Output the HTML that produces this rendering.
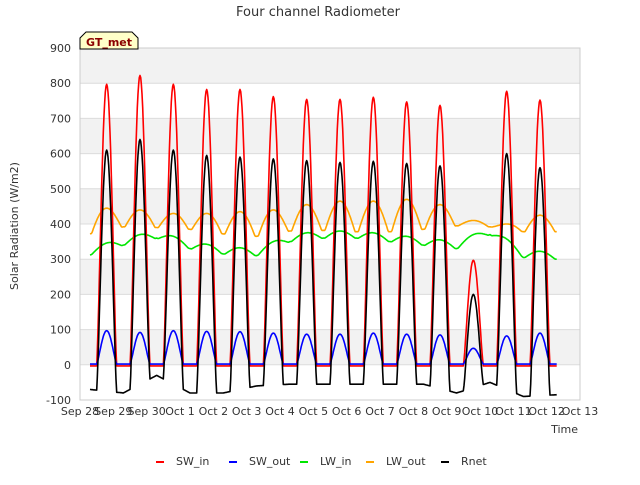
<!DOCTYPE html>
<html><head><meta charset="utf-8"><style>
body{margin:0;background:#fff;font-family:"Liberation Sans","DejaVu Sans",sans-serif}
svg text{font-family:"DejaVu Sans","Liberation Sans",sans-serif}
</style></head><body>
<svg id="c" width="640" height="480" xmlns="http://www.w3.org/2000/svg">
<text x="318" y="16" text-anchor="middle" font-size="13" fill="#333">Four channel Radiometer</text>
<text transform="translate(18,226) rotate(-90)" text-anchor="middle" font-size="11" fill="#333">Solar Radiation (W/m2)</text>
<text x="578" y="433" text-anchor="end" font-size="11" fill="#333">Time</text>
<g id="bands"></g><g id="grid"></g><g id="series"></g><g id="axes"></g>
<g>
<path d="M80,49 L80,38 L86,32 L132,32 L138,38 L138,49 Z" fill="#ffffc8" stroke="#000" stroke-width="1"/>
<text x="109" y="46" text-anchor="middle" font-size="11" font-weight="bold" fill="#8b0000">GT_met</text>
</g>
<g id="legend"></g>
</svg>
<script>
const xTicks=["Sep 28","Sep 29","Sep 30","Oct 1","Oct 2","Oct 3","Oct 4","Oct 5","Oct 6","Oct 7","Oct 8","Oct 9","Oct 10","Oct 11","Oct 12","Oct 13"];
const yTicks=[-100,0,100,200,300,400,500,600,700,800,900];
const swInPeak=[800,825,800,785,785,765,757,757,763,750,740,300,780,755];
const swOutPeak=[95,90,95,93,92,88,85,85,88,85,83,45,80,88];
const rnetPeak=[610,640,610,595,590,585,580,575,578,572,565,200,600,560];
const rnetNight=[-70,-80,-30,-80,-80,-60,-55,-55,-55,-55,-55,-80,-50,-90,-85];
const lwInLevel=[312,340,360,330,315,310,350,360,360,350,340,330,370,305,300];
const lwOutPeak=[445,440,430,430,435,440,455,465,465,470,455,410,400,425];
const lwOutNight=[372,392,390,385,372,365,380,382,378,378,385,395,392,378,378];
const X0=80,X1=580,Y0=400,Y1=48;
const xs=d=>X0+(X1-X0)*d/15;
const ys=v=>Y0-(Y0-Y1)*(v+100)/1000;
const NS="http://www.w3.org/2000/svg";
function mk(t,a,p){const e=document.createElementNS(NS,t);for(const k in a)e.setAttribute(k,a[k]);p.appendChild(e);return e;}
const bands=document.getElementById('bands'),grid=document.getElementById('grid'),axes=document.getElementById('axes'),ser=document.getElementById('series'),leg=document.getElementById('legend');
mk('rect',{x:X0,y:Y1,width:X1-X0,height:Y0-Y1,fill:'#fff'},bands);
for(let v=0;v<900;v+=200){const r=mk('rect',{x:X0,y:ys(v+100),width:X1-X0,height:ys(v)-ys(v+100),fill:'#f2f2f2'},bands);

}
yTicks.forEach(v=>{const l=mk('line',{x1:X0,x2:X1,y1:ys(v),y2:ys(v),stroke:'#dcdcdc','stroke-width':1},grid);


const t=mk('text',{x:X0-9,y:ys(v)+4,'text-anchor':'end','font-size':11,fill:'#333'},axes);t.textContent=v;

});
xTicks.forEach((s,i)=>{const t=mk('text',{x:xs(i),y:415,'text-anchor':'middle','font-size':11,fill:'#333'},axes);t.textContent=s;

});
mk('rect',{x:X0,y:Y1,width:X1-X0,height:Y0-Y1,fill:'none',stroke:'#ccc'},axes);
function bell(t,i){const c=i+0.8,h=0.3;const u=(t-c)/h;return Math.abs(u)<1?Math.pow(Math.cos(u*Math.PI/2),1.3):0;}
function bell2(t,i){const c=i+0.8,h=0.45;const u=(t-c)/h;return Math.abs(u)<1?Math.cos(u*Math.PI/2):0;}
// night value interpolated between night centres (k+0.3)
function nightVal(arr,t){const p=t-0.3;let k=Math.floor(p);k=Math.max(0,Math.min(arr.length-2,k));const f=Math.max(0,Math.min(1,p-k));return arr[k]*(1-f)+arr[k+1]*f;}
function build(fn){const pts=[];for(let t=0.3;t<=14.3;t+=0.02){const i=Math.min(13,Math.max(0,Math.round(t-0.8)));pts.push(xs(t).toFixed(1)+','+ys(fn(t,i)).toFixed(1));}return pts.join(' ');}
const series=[
 {name:'LW_out',color:'orange',fn:(t,i)=>{const n=nightVal(lwOutNight,t);return n+(lwOutPeak[i]-n)*bell2(t,i);}},
 {name:'LW_in',color:'#00e600',fn:(t,i)=>nightVal(lwInLevel,t)+20*bell2(t,i)},
 {name:'SW_in',color:'red',fn:(t,i)=>-3+swInPeak[i]*bell(t,i)},
 {name:'SW_out',color:'blue',fn:(t,i)=>2+swOutPeak[i]*bell(t,i)},
 {name:'Rnet',color:'black',fn:(t,i)=>{const n=nightVal(rnetNight,t);return n+(rnetPeak[i]-n)*bell(t,i);}}
];
series.forEach(s=>{const p=mk('polyline',{points:build(s.fn),fill:'none',stroke:s.color,'stroke-width':1.6,'stroke-linejoin':'round'},ser);

});
const legOrder=[['SW_in','red',156],['SW_out','blue',229],['LW_in','#00e600',300],['LW_out','orange',366],['Rnet','black',441]];
legOrder.forEach(([n,c,x])=>{const g=mk('g',{},leg);


mk('line',{x1:x,x2:x+8,y1:462,y2:462,stroke:c,'stroke-width':2},g);
const t=mk('text',{x:x+20,y:465,'font-size':11,fill:'#333'},g);t.textContent=n;});
</script>
</body></html>
